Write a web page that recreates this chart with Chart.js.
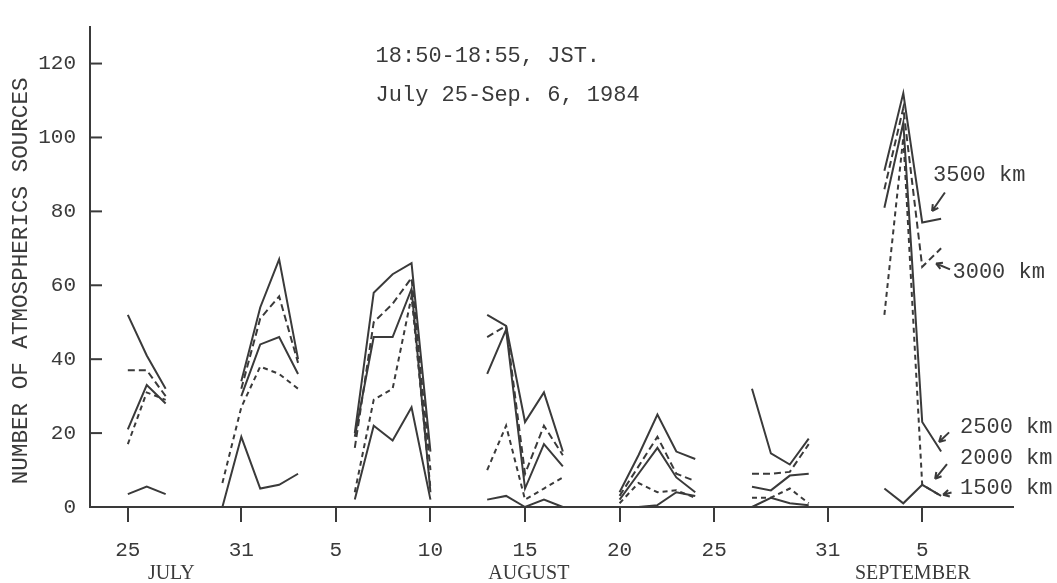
<!DOCTYPE html>
<html lang="en">
<head>
<meta charset="UTF-8">
<title>Number of atmospherics sources, July 25 - Sep. 6, 1984</title>
<script src="https://cdn.jsdelivr.net/npm/chart.js"></script>
<style>
  html, body { margin: 0; padding: 0; background: #fff; }
</style>
</head>
<body>
<canvas id="chart" width="1057" height="583"></canvas>
<script>
// day index: 0 = July 25, 6 = July 31, 11 = Aug 5, 37 = Aug 31, 43 = Sep 6
const days = [
   0,  1,  2,  3,  4,  5,  6,  7,  8,  9, 10,
  11, 12, 13, 14, 15, 16, 17, 18, 19, 20, 21,
  22, 23, 24, 25, 26, 27, 28, 29, 30, 31, 32,
  33, 34, 35, 36, 37, 38, 39, 40, 41, 42, 43
];
const _ = null;

// Jul25-27 | Jul28-30 | Jul31-Aug3 | Aug4-5 | Aug6-10 | Aug11-12 | Aug13-17 | Aug18-19 | Aug20-24 | Aug25-26 | Aug27-30 | Aug31-Sep2 | Sep3-6
const km3500 = [52, 41, 32,   _, _, _,     34, 54, 67, 40,  _, _,  20, 58, 63, 66, 15,  _, _,  52, 49, 23, 31, 15,  _, _,  4, 14, 25, 15, 13,  _, _,  32, 14.5, 11.5, 18.5,  _, _, _,  91, 112, 77, 78];
const km3000 = [37, 37, 30,   _, _, _,     32, 51, 57, 39,  _, _,  16, 50, 55, 62, 10,  _, _,  46, 49,  9, 22, 14,  _, _,  3, 11, 19,  9,  7,  _, _,   9,    9,  9.5,   17,  _, _, _,  86, 108, 65, 70];
const km2500 = [21, 33, 28,   _, _, _,     30, 44, 46, 36,  _, _,  19, 46, 46, 59,  4,  _, _,  36, 48,  5, 17, 11,  _, _,  2,  9, 16,  8,  4,  _, _, 5.5,  4.5,  8.5,    9,  _, _, _,  81, 104, 23, 15];
const km2000 = [17, 31, 29,   _, _, 6.5,   27, 38, 36, 32,  _, _,   4, 29, 32, 57,  5,  _, _,  10, 22,  2,  5,  8,  _, _,  1, 6.5, 4, 4.5, 2.5,  _, _, 2.5,  2.5,    5,    1,  _, _, _,  52, 100,  6,  3];
const km1500 = [3.5, 5.5, 3.5, _, _, 0,    19,  5,  6,  9,  _, _,   2, 22, 18, 27,  2,  _, _,   2,  3,  0,  2,  0,  _, _,  0,  0, 0.5, 4,  3,  _, _,   0,  2.5,    1,  0.5,  _, _, _,   5,   1,  6,  3];

const seriesNames = ['3500 km', '3000 km', '2500 km', '2000 km', '1500 km'];
const seriesValues = [km3500, km3000, km2500, km2000, km1500];

const xTickDays = [0, 6, 11, 16, 21, 26, 31, 37, 42];
const xTickLabels = ['25', '31', '5', '10', '15', '20', '25', '31', '5'];
const yTickValues = [0, 20, 40, 60, 80, 100, 120];

const monthNames = ['JULY', 'AUGUST', 'SEPTEMBER'];
const monthCenters = [2.3, 21.2, 41.5];

const titleLines = ['18:50-18:55, JST.', 'July 25-Sep. 6, 1984'];
const yTitle = 'NUMBER OF ATMOSPHERICS SOURCES';

const ink = '#3a3a3a';
const mono = '"Liberation Mono", "Courier New", monospace';
const dashes = [[], [7, 4], [], [5, 4], []];

const datasets = seriesNames.map((name, i) => ({
  label: name,
  data: days.map((d, j) => ({ x: d, y: seriesValues[i][j] })),
  borderColor: ink,
  borderWidth: 2,
  borderDash: dashes[i],
  pointRadius: 0,
  tension: 0,
  spanGaps: false,
  fill: false,
  clip: false
}));

function arrow(ctx, x1, y1, x2, y2) {
  const a = Math.atan2(y2 - y1, x2 - x1), h = 7;
  ctx.beginPath();
  ctx.moveTo(x1, y1); ctx.lineTo(x2, y2);
  ctx.moveTo(x2, y2); ctx.lineTo(x2 - h * Math.cos(a - 0.5), y2 - h * Math.sin(a - 0.5));
  ctx.moveTo(x2, y2); ctx.lineTo(x2 - h * Math.cos(a + 0.5), y2 - h * Math.sin(a + 0.5));
  ctx.stroke();
}

const annotations = {
  id: 'annotations',
  afterDraw(chart) {
    const { ctx, chartArea, scales: { x, y } } = chart;
    ctx.save();
    ctx.strokeStyle = ink;
    ctx.fillStyle = ink;
    ctx.lineWidth = 2;

    // y ticks point into the plot
    yTickValues.forEach(v => {
      const py = y.getPixelForValue(v);
      ctx.beginPath();
      ctx.moveTo(chartArea.left, py);
      ctx.lineTo(chartArea.left + 12, py);
      ctx.stroke();
    });

    // heading
    ctx.font = '22px ' + mono;
    ctx.textAlign = 'left';
    ctx.textBaseline = 'middle';
    ctx.fillText(titleLines[0], x.getPixelForValue(13.1), y.getPixelForValue(121.9));
    ctx.fillText(titleLines[1], x.getPixelForValue(13.1), y.getPixelForValue(111.4));

    // month names under the day labels
    ctx.font = '20px "Liberation Serif", "Times New Roman", serif';
    ctx.textAlign = 'center';
    monthNames.forEach((m, i) => {
      ctx.fillText(m, x.getPixelForValue(monthCenters[i]), chartArea.bottom + 67);
    });

    // y axis title
    ctx.save();
    ctx.translate(21, y.getPixelForValue(61.2));
    ctx.rotate(-Math.PI / 2);
    ctx.font = '22.6px ' + mono;
    ctx.textAlign = 'center';
    ctx.fillText(yTitle, 0, 0);
    ctx.restore();

    // curve labels with arrows (day, value anchors)
    const side = [
      { text: [42.57, 89.8], from: [43.2, 85.1], to: [42.52, 80.1] },
      { text: [43.6, 63.6],  from: [43.47, 64.3], to: [42.73, 65.9] },
      { text: [44.0, 21.5],  from: [43.42, 20.2], to: [42.89, 17.6] },
      { text: [44.0, 13.1],  from: [43.31, 11.6], to: [42.68, 7.6] },
      { text: [44.0, 5.0],   from: [43.55, 3.9],  to: [43.1, 3.3] }
    ];
    ctx.font = '22px ' + mono;
    ctx.textAlign = 'left';
    side.forEach((s, i) => {
      ctx.fillText(seriesNames[i], x.getPixelForValue(s.text[0]), y.getPixelForValue(s.text[1]));
      arrow(ctx, x.getPixelForValue(s.from[0]), y.getPixelForValue(s.from[1]),
                 x.getPixelForValue(s.to[0]), y.getPixelForValue(s.to[1]));
    });
    ctx.restore();
  }
};

new Chart(document.getElementById('chart'), {
  type: 'line',
  data: { datasets },
  options: {
    responsive: false,
    animation: false,
    layout: { padding: { top: 12, right: 44, left: 0, bottom: 0 } },
    plugins: { legend: { display: false }, tooltip: { enabled: false } },
    scales: {
      x: {
        type: 'linear',
        min: -2,
        max: 46.8,
        afterBuildTicks: s => { s.ticks = xTickDays.map(v => ({ value: v })); },
        afterFit: s => { s.height = 76; },
        grid: { drawOnChartArea: false, drawTicks: true, tickLength: 15, color: ink, lineWidth: 2 },
        border: { display: true, color: ink, width: 2 },
        ticks: {
          autoSkip: false,
          maxRotation: 0,
          padding: 16,
          color: ink,
          font: { family: mono, size: 21 },
          callback: (v, i) => xTickLabels[i]
        }
      },
      y: {
        min: 0,
        max: 130,
        afterBuildTicks: s => { s.ticks = yTickValues.map(v => ({ value: v })); },
        afterFit: s => { s.width = 90; },
        grid: { display: false, drawTicks: false },
        border: { display: true, color: ink, width: 2 },
        ticks: {
          padding: 14,
          color: ink,
          font: { family: mono, size: 21 }
        }
      }
    }
  },
  plugins: [annotations]
});
</script>
</body>
</html>
